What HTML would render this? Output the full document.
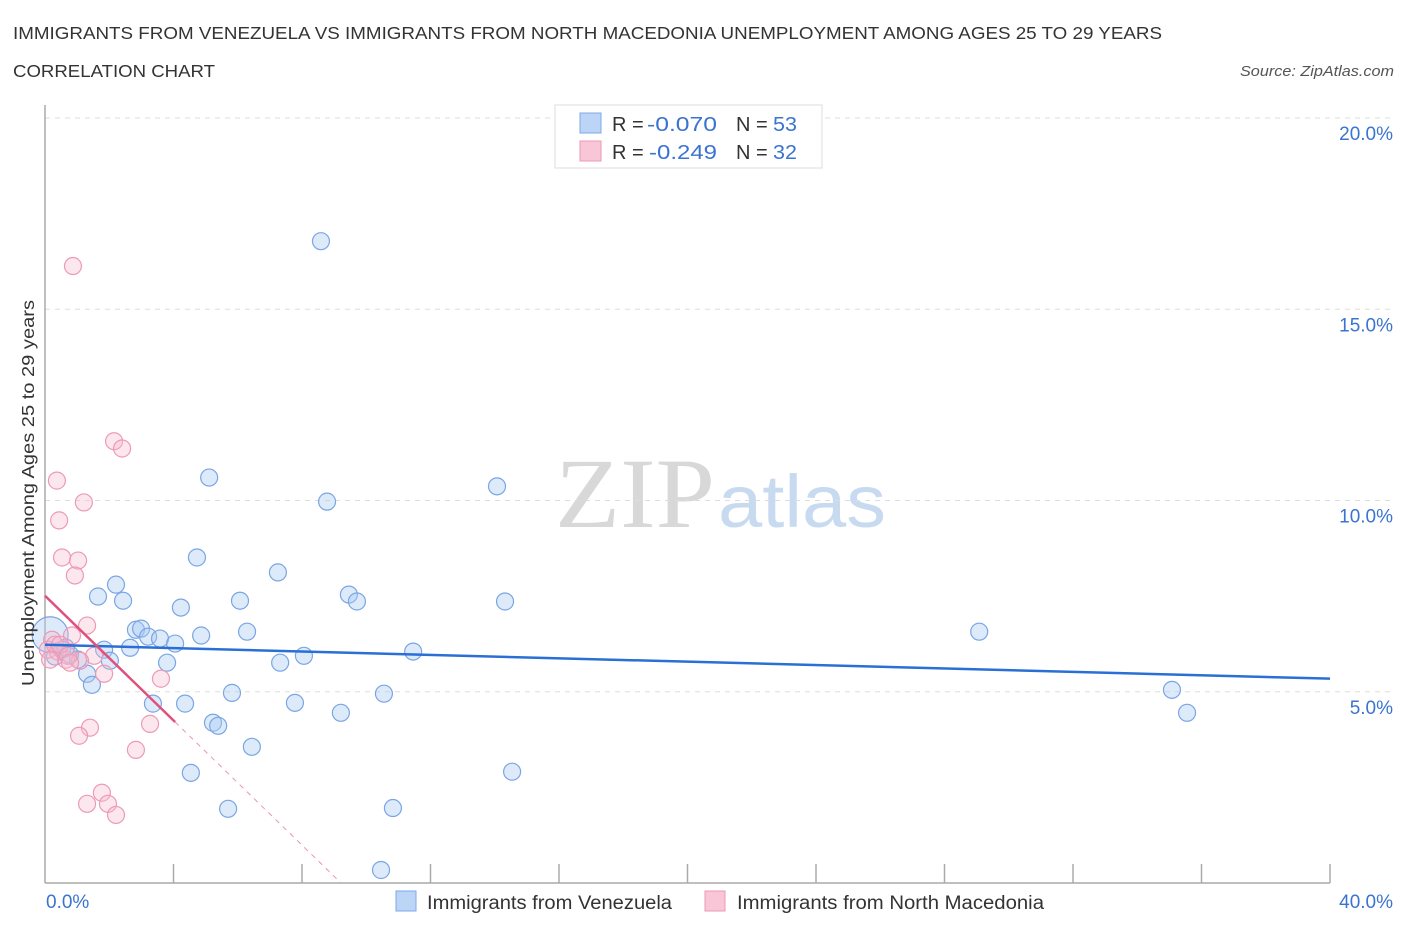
<!DOCTYPE html>
<html><head><meta charset="utf-8">
<style>
body{margin:0;background:#fff;font-family:"Liberation Sans",sans-serif;}
svg{display:block}
</style></head>
<body>
<svg id="chart" width="1406" height="930" viewBox="0 0 1406 930">
<text x="13" y="39" font-size="17.5" fill="#333" textLength="1149" lengthAdjust="spacingAndGlyphs">IMMIGRANTS FROM VENEZUELA VS IMMIGRANTS FROM NORTH MACEDONIA UNEMPLOYMENT AMONG AGES 25 TO 29 YEARS</text>
<text x="13" y="77" font-size="17.5" fill="#333" textLength="202" lengthAdjust="spacingAndGlyphs">CORRELATION CHART</text>
<text x="1394" y="76" font-size="15" fill="#555" font-style="italic" text-anchor="end" textLength="154" lengthAdjust="spacingAndGlyphs">Source: ZipAtlas.com</text>
<text x="635" y="527" font-size="100" fill="#d8d8d8" font-family="Liberation Serif, serif" text-anchor="middle" textLength="160" lengthAdjust="spacingAndGlyphs">ZIP</text>
<text x="802" y="527" font-size="74" fill="#c8daf0" text-anchor="middle" textLength="168" lengthAdjust="spacingAndGlyphs">atlas</text>
<g id="grid"></g>
<g id="axes"></g>
<g id="marks"></g>
<text transform="translate(34,493) rotate(-90)" font-size="17.5" fill="#333" text-anchor="middle" textLength="386" lengthAdjust="spacingAndGlyphs">Unemployment Among Ages 25 to 29 years</text>
<g>
<rect x="555" y="105" width="267" height="63" fill="#fff" stroke="#ddd"/>
<rect x="580" y="113" width="21" height="20" fill="#bcd4f5" stroke="#7ea9e8"/>
<rect x="580" y="141" width="21" height="20" fill="#f8c6d6" stroke="#eb9ab3"/>
<text x="612" y="131" font-size="20" fill="#333">R = <tspan x="647" fill="#3a74d0" textLength="70" lengthAdjust="spacingAndGlyphs">-0.070</tspan><tspan x="736">N = </tspan><tspan x="773" fill="#3a74d0" textLength="24" lengthAdjust="spacingAndGlyphs">53</tspan></text>
<text x="612" y="159" font-size="20" fill="#333">R = <tspan x="649" fill="#3a74d0" textLength="68" lengthAdjust="spacingAndGlyphs">-0.249</tspan><tspan x="736">N = </tspan><tspan x="773" fill="#3a74d0" textLength="24" lengthAdjust="spacingAndGlyphs">32</tspan></text>
</g>
<g>
<rect x="396" y="891" width="20" height="20" fill="#bcd4f5" stroke="#7ea9e8"/>
<text x="427" y="909" font-size="19" fill="#333" textLength="245" lengthAdjust="spacingAndGlyphs">Immigrants from Venezuela</text>
<rect x="705" y="891" width="20" height="20" fill="#f8c6d6" stroke="#eb9ab3"/>
<text x="737" y="909" font-size="19" fill="#333" textLength="307" lengthAdjust="spacingAndGlyphs">Immigrants from North Macedonia</text>
</g>
</svg>
<script>
const xTicks=[0,40];
const yTicks=[5,10,15,20];
const blueX=[8.59,5.11,8.78,14.07,4.73,2.21,7.25,1.65,2.43,4.23,6.07,9.46,9.71,14.32,2.83,2.99,3.21,3.58,4.05,4.86,6.29,2.65,1.84,3.80,2.02,7.32,8.06,11.46,29.08,1.31,1.46,5.82,3.36,4.36,7.78,10.55,9.21,35.08,35.55,5.23,5.39,6.44,4.54,14.54,5.70,10.83,10.46,0.16,0.31,0.53,0.78,1.03,0.65];
const blueY=[16.78,10.60,9.97,10.37,8.51,7.80,8.12,7.49,7.38,7.20,7.38,7.54,7.36,7.36,6.62,6.65,6.44,6.39,6.26,6.47,6.57,6.15,6.10,5.76,5.81,5.76,5.94,6.05,6.57,5.47,5.18,4.97,4.69,4.69,4.71,4.95,4.45,5.05,4.45,4.19,4.11,3.56,2.88,2.91,1.94,1.96,0.34,6.49,5.92,6.10,5.97,5.84,6.15];
const pinkX=[0.87,2.15,2.40,0.37,1.21,0.44,0.53,1.03,0.93,1.31,0.84,0.22,0.09,0.40,0.65,1.53,1.09,1.84,3.61,3.27,1.40,1.06,2.83,1.77,1.31,1.96,2.21,0.31,0.47,0.72,0.16,0.78];
const pinkY=[16.13,11.55,11.36,10.52,9.95,9.48,8.51,8.43,8.04,6.73,6.47,6.36,6.10,6.05,5.84,5.94,5.81,5.47,5.34,4.16,4.06,3.85,3.48,2.36,2.07,2.07,1.78,6.23,6.23,5.94,5.84,5.76];
const blueTrend=[6.23,-0.0222];
const pinkTrend=[7.51,-0.815];
const pinkSolidEnd=4.05;

const NS="http://www.w3.org/2000/svg";
const X0=45,X1=1330,Y0=883,Y20=118;
const sx=v=>X0+(v-0)*(X1-X0)/40;
const sy=v=>Y0-v*(Y0-Y20)/20;
function mk(parent,tag,attrs){const e=document.createElementNS(NS,tag);for(const k in attrs)e.setAttribute(k,attrs[k]);document.getElementById(parent).appendChild(e);return e;}

yTicks.forEach(t=>{
  const l=mk('grid','line',{x1:X0,x2:1395,y1:sy(t),y2:sy(t),stroke:'#ddd','stroke-dasharray':'5,5'});
  
  
  const tx=mk('grid','text',{x:1393,y:sy(t)+22,'font-size':19,fill:'#3a74d0','text-anchor':'end'});
  tx.textContent=t.toFixed(1)+'%';
  
  
});
const ya=mk('axes','line',{x1:X0,x2:X0,y1:105,y2:Y0,stroke:'#aaa','stroke-width':1.5});


const xa=mk('axes','line',{x1:X0,x2:X1,y1:Y0,y2:Y0,stroke:'#aaa','stroke-width':1.5});


for(let i=1;i<=10;i++){
  const t=mk('axes','line',{x1:sx(i*4),x2:sx(i*4),y1:Y0-19,y2:Y0,stroke:'#aaa','stroke-width':1.5});
  
  
}
xTicks.forEach((t,i)=>{
  const tx=mk('axes','text',{x:i==0?46:1393,y:908,'font-size':19,fill:'#3a74d0','text-anchor':i==0?'start':'end'});
  tx.textContent=t.toFixed(1)+'%';
  
  
});
blueX.forEach((x,i)=>{
  const c=mk('marks','circle',{cx:sx(x),cy:sy(blueY[i]),r:i==47?18:8.5,fill:'rgba(170,202,242,0.4)',stroke:'#7aa6e4','stroke-width':1.2});
  
  
});
pinkX.forEach((x,i)=>{
  const c=mk('marks','circle',{cx:sx(x),cy:sy(pinkY[i]),r:8.5,fill:'rgba(245,185,205,0.35)',stroke:'#ee9ab5','stroke-width':1.2});
  
  
});
const bl=mk('marks','line',{x1:sx(0),y1:sy(blueTrend[0]),x2:sx(40),y2:sy(blueTrend[0]+blueTrend[1]*40),stroke:'#2a6fd6','stroke-width':2.5});


const pl=mk('marks','line',{x1:sx(0),y1:sy(pinkTrend[0]),x2:sx(pinkSolidEnd),y2:sy(pinkTrend[0]+pinkTrend[1]*pinkSolidEnd),stroke:'#e0507c','stroke-width':2.5});


const xz=-pinkTrend[0]/pinkTrend[1];
const pd=mk('marks','line',{x1:sx(pinkSolidEnd),y1:sy(pinkTrend[0]+pinkTrend[1]*pinkSolidEnd),x2:sx(xz),y2:sy(0),stroke:'#eb94b0','stroke-width':1,'stroke-dasharray':'5,5'});


</script>
</body></html>
